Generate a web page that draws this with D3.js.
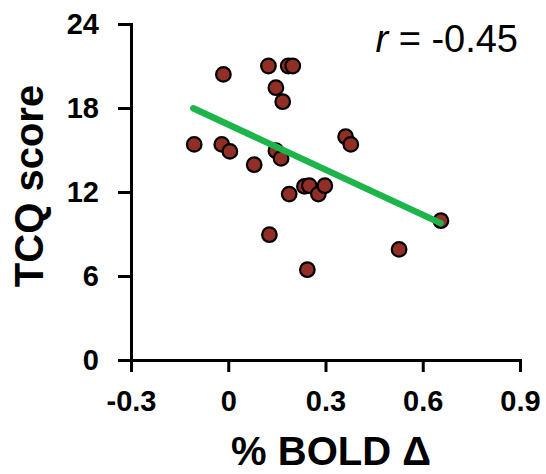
<!DOCTYPE html>
<html>
<head>
<meta charset="utf-8">
<script src="https://cdn.jsdelivr.net/npm/d3@7"></script>
<style>
  body { margin: 0; background: #fff; }
  .axis path, .axis line { stroke: #000; stroke-width: 3; }
  .axis text { font-family: "Liberation Sans", Arial, sans-serif; font-weight: bold; font-size: 29px; fill: #000; }
</style>
</head>
<body>
<div id="chart"></div>
<script>
// BOLD change vs TCQ score, one dot per subject
const boldDelta = [-0.015, 0.124, 0.185, 0.199, 0.147, 0.168, -0.105, -0.02, 0.005, 0.08,
                   0.147, 0.163, 0.362, 0.378, 0.188, 0.235, 0.25, 0.278, 0.298, 0.127,
                   0.244, 0.527, 0.656];
const tcqScore = [20.4, 21, 21, 21, 19.45, 18.45, 15.4, 15.4, 14.9, 13.95,
                  14.95, 14.4, 15.95, 15.4, 11.85, 12.4, 12.45, 11.85, 12.45, 8.95,
                  6.45, 7.9, 9.95];
// fitted line ends
const fitX = [-0.108, 0.655];
const fitY = [17.98, 9.78];
const xTicks = [-0.3, 0, 0.3, 0.6, 0.9];
const yTicks = [0, 6, 12, 18, 24];
const rLabel = "-0.45";

const width = 546, height = 474;
const margin = {top: 24, right: 26, bottom: 114, left: 131};

const svg = d3.select("#chart").append("svg")
    .attr("width", width)
    .attr("height", height);

const x = d3.scaleLinear().domain([-0.3, 0.9]).range([margin.left, width - margin.right]);
const y = d3.scaleLinear().domain([0, 24]).range([height - margin.bottom, margin.top]);

const fmt = d => d === 0 ? "0" : d3.format(".1f")(d).replace("−", "-");

svg.append("g")
    .attr("class", "axis")
    .attr("transform", "translate(" + margin.left + ",0)")
    .call(d3.axisLeft(y).tickValues(yTicks).tickSize(13).tickSizeOuter(0).tickPadding(19));

svg.append("g")
    .attr("class", "axis")
    .attr("transform", "translate(0," + (height - margin.bottom) + ")")
    .call(d3.axisBottom(x).tickValues(xTicks).tickFormat(fmt).tickSize(12).tickSizeOuter(0).tickPadding(18));

svg.selectAll(".axis .domain").attr("stroke-linecap", "square");

// dots
const pts = boldDelta.map((d, i) => ({x: d, y: tcqScore[i]}));
svg.append("g").selectAll("circle")
    .data(pts)
    .enter()
    .append("circle")
    .attr("cx", d => x(d.x))
    .attr("cy", d => y(d.y))
    .attr("r", 7.3)
    .attr("fill", "#912f27")
    .attr("stroke", "#000")
    .attr("stroke-width", 2.2);

// regression line
svg.append("line")
    .attr("x1", x(fitX[0])).attr("y1", y(fitY[0]))
    .attr("x2", x(fitX[1])).attr("y2", y(fitY[1]))
    .attr("stroke", "#1db44a")
    .attr("stroke-width", 6.5)
    .attr("stroke-linecap", "round");

// correlation label
const rText = svg.append("text")
    .attr("x", 518)
    .attr("y", 52)
    .attr("text-anchor", "end")
    .attr("font-family", "Liberation Sans, Arial, sans-serif")
    .attr("font-size", 38)
    .attr("fill", "#000");
rText.append("tspan").attr("font-style", "italic").text("r");
rText.append("tspan").text(" = " + rLabel);

// axis titles
svg.append("text")
    .attr("x", 331)
    .attr("y", 465)
    .attr("text-anchor", "middle")
    .attr("font-family", "Liberation Sans, Arial, sans-serif")
    .attr("font-weight", "bold")
    .attr("font-size", 40)
    .text("% BOLD Δ");

svg.append("text")
    .attr("transform", "translate(43,186) rotate(-90)")
    .attr("text-anchor", "middle")
    .attr("font-family", "Liberation Sans, Arial, sans-serif")
    .attr("font-weight", "bold")
    .attr("font-size", 40)
    .text("TCQ score");
</script>
</body>
</html>
